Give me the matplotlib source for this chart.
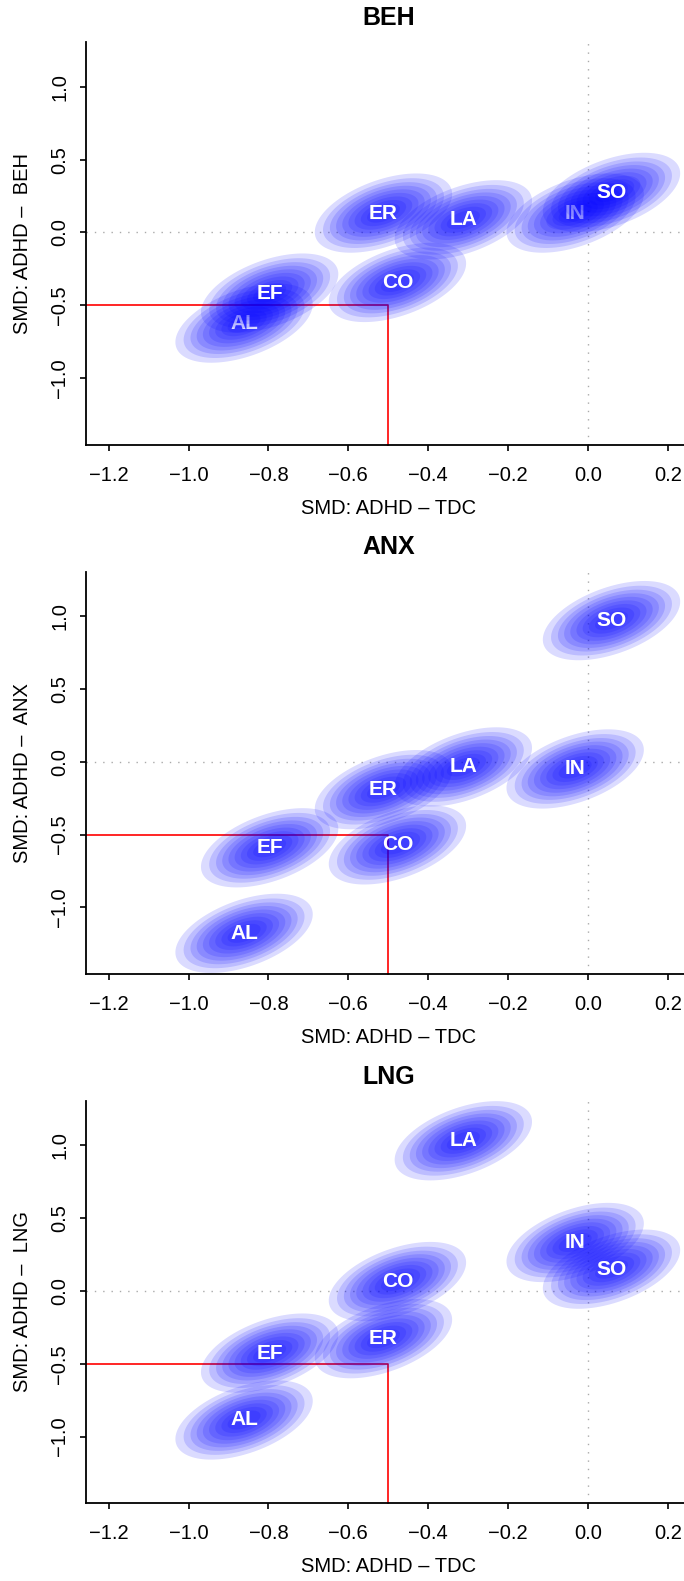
import numpy as np
import matplotlib
matplotlib.use('Agg')
import matplotlib.pyplot as plt
from matplotlib.ticker import FuncFormatter, FixedLocator

plt.rcParams['font.family'] = ['Liberation Sans', 'DejaVu Sans']

# domains and their SMDs (point estimates)
domains = ['AL', 'CO', 'EF', 'ER', 'IN', 'LA', 'SO']
smd_tdc = [-0.861, -0.477, -0.797, -0.512, -0.032, -0.312, 0.059]
smd_beh = [-0.622, -0.343, -0.416, 0.133, 0.133, 0.087, 0.275]
smd_anx = [-1.178, -0.571, -0.591, -0.192, -0.050, -0.036, 0.968]
smd_lng = [-0.886, 0.064, -0.427, -0.328, 0.332, 1.030, 0.149]

panel_titles = ['BEH', 'ANX', 'LNG']
panel_values = [smd_beh, smd_anx, smd_lng]

x_ticks = [-1.2, -1.0, -0.8, -0.6, -0.4, -0.2, 0.0, 0.2]
y_ticks = [-1.0, -0.5, 0.0, 0.5, 1.0]
cutoff = -0.5

# uncertainty ellipse shape (outer ring), shared by all domains
half_w = 0.172
half_h = 0.272
rho = 0.48
ring_scales = [1.0, 0.88, 0.78, 0.69, 0.60, 0.51, 0.42, 0.33, 0.24]

xlim = (-1.2563, 0.2563)
ylim = (-1.455, 1.305)

W, H = 684, 1581
fig = plt.figure(figsize=(W / 100, H / 100), dpi=100)

t = np.linspace(0, 2 * np.pi, 120)
minus = FuncFormatter(lambda v, p: '{:.1f}'.format(v).replace('-', '\u2212'))

for k, (title, yvals) in enumerate(zip(panel_titles, panel_values)):
    top_px = 42.3 + 529.2 * k
    ax_h = 402.2
    ax = fig.add_axes([86.2 / W, 1 - (top_px + ax_h) / H, 604.1 / W, ax_h / H])
    ax.set_xlim(*xlim)
    ax.set_ylim(*ylim)

    ax.axvline(0, color='#aaaaaa', lw=1.0, ls=(0, (1, 5)), zorder=1)
    ax.axhline(0, color='#aaaaaa', lw=1.0, ls=(0, (1, 5)), zorder=1)
    ax.plot([xlim[0], cutoff, cutoff], [cutoff, cutoff, ylim[0]],
            color='#ff0000', lw=1.2, zorder=2, clip_on=False)

    z = 3
    for name, x0, y0 in zip(domains, smd_tdc, yvals):
        for s in ring_scales:
            ex = x0 + s * half_w * np.cos(t)
            ey = y0 + s * half_h * (rho * np.cos(t) + np.sqrt(1 - rho ** 2) * np.sin(t))
            ax.fill(ex, ey, color='#0000ff', alpha=0.14, lw=0, zorder=z)
        z += 1
        ax.text(x0, y0, name, color='white', fontsize=15, fontweight='bold',
                ha='center', va='center', zorder=z)
        z += 1

    for side in ['top', 'right']:
        ax.spines[side].set_visible(False)
    for side in ['left', 'bottom']:
        ax.spines[side].set_linewidth(1.3)

    ax.xaxis.set_major_locator(FixedLocator(x_ticks))
    ax.yaxis.set_major_locator(FixedLocator(y_ticks))
    ax.xaxis.set_major_formatter(minus)
    ax.yaxis.set_major_formatter(minus)
    ax.tick_params(axis='both', length=4.2, width=1.2, labelsize=14.5)
    ax.tick_params(axis='x', pad=11)
    ax.tick_params(axis='y', pad=8)
    for lab in ax.get_yticklabels():
        lab.set_rotation(90)
        lab.set_va('center')

    ax.set_xlabel('SMD: ADHD \u2013 TDC', fontsize=14.5, va='center')
    ax.xaxis.set_label_coords(0.5, -(508.3 - 444.5) / ax_h)
    ax.set_ylabel('SMD: ADHD \u2013  ' + title, fontsize=14.5, va='center')
    ax.yaxis.set_label_coords(-(86.2 - 22.7) / 604.1, 0.5)

    ax.text(0.5, 1 + 24 / ax_h, title, transform=ax.transAxes, ha='center',
            va='center', fontsize=18, fontweight='bold')

fig.savefig('out.png', dpi=100)
